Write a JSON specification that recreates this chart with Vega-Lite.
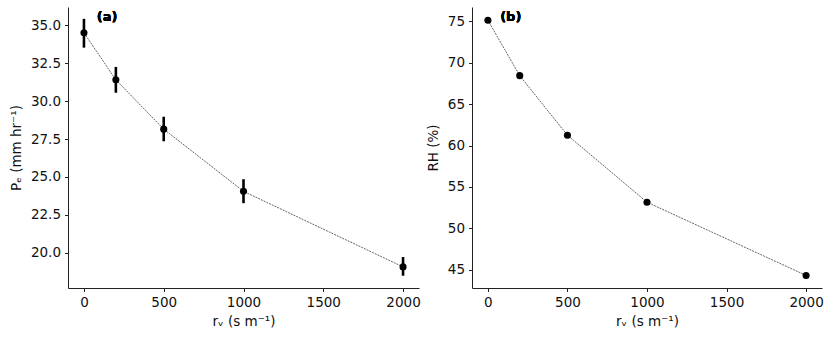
{
  "$schema": "https://vega.github.io/schema/vega-lite/v6.json",
  "padding": {"left": 9, "top": 7, "right": 10, "bottom": 5},
  "spacing": 53,
  "bounds": "flush",
  "config": {
    "font": "DejaVu Sans",
    "view": {"stroke": null},
    "axis": {
      "grid": false,
      "domainColor": "#222222",
      "domainWidth": 1,
      "tickColor": "#222222",
      "tickSize": 3.5,
      "tickWidth": 1,
      "labelFontSize": 13.5,
      "labelColor": "#111111",
      "labelPadding": 4,
      "titleFontSize": 13.5,
      "titleFontWeight": "normal",
      "titleColor": "#111111"
    }
  },
  "hconcat": [
    {
      "width": 351,
      "height": 281,
      "data": {"values": [
        {"rv": 0, "Pe": 34.5, "lo": 33.52, "hi": 35.42},
        {"rv": 200, "Pe": 31.4, "lo": 30.55, "hi": 32.25},
        {"rv": 500, "Pe": 28.15, "lo": 27.35, "hi": 28.97},
        {"rv": 1000, "Pe": 24.05, "lo": 23.27, "hi": 24.85},
        {"rv": 2000, "Pe": 19.07, "lo": 18.49, "hi": 19.72}
      ]},
      "layer": [
        {
          "mark": {"type": "line", "color": "#222222", "strokeWidth": 0.7, "strokeDash": [2, 1]},
          "encoding": {
            "x": {"field": "rv", "type": "quantitative", "scale": {"domain": [-100, 2100], "nice": false, "zero": false},
                  "axis": {"values": [0, 500, 1000, 1500, 2000], "format": "d", "title": "rᵥ (s m⁻¹)", "titlePadding": 5}},
            "y": {"field": "Pe", "type": "quantitative", "scale": {"domain": [17.68, 36.2], "nice": false, "zero": false},
                  "axis": {"values": [20, 22.5, 25, 27.5, 30, 32.5, 35], "format": ".1f", "title": "Pₑ (mm hr⁻¹)", "titlePadding": 7}}
          }
        },
        {
          "mark": {"type": "rule", "color": "black", "strokeWidth": 2.6},
          "encoding": {
            "x": {"field": "rv", "type": "quantitative"},
            "y": {"field": "lo", "type": "quantitative"},
            "y2": {"field": "hi"}
          }
        },
        {
          "mark": {"type": "circle", "color": "black", "opacity": 1, "size": 50},
          "encoding": {
            "x": {"field": "rv", "type": "quantitative"},
            "y": {"field": "Pe", "type": "quantitative"}
          }
        },
        {
          "mark": {"type": "text", "text": "(a)", "fontWeight": "bold", "fontSize": 13, "align": "left", "baseline": "middle", "color": "black"},
          "encoding": {
            "x": {"datum": 80},
            "y": {"datum": 35.55}
          }
        }
      ]
    },
    {
      "width": 350,
      "height": 281,
      "data": {"values": [
        {"rv": 0, "RH": 75.15},
        {"rv": 200, "RH": 68.45},
        {"rv": 500, "RH": 61.25},
        {"rv": 1000, "RH": 53.15},
        {"rv": 2000, "RH": 44.3}
      ]},
      "layer": [
        {
          "mark": {"type": "line", "color": "#222222", "strokeWidth": 0.7, "strokeDash": [2, 1]},
          "encoding": {
            "x": {"field": "rv", "type": "quantitative", "scale": {"domain": [-100, 2100], "nice": false, "zero": false},
                  "axis": {"values": [0, 500, 1000, 1500, 2000], "format": "d", "title": "rᵥ (s m⁻¹)", "titlePadding": 5}},
            "y": {"field": "RH", "type": "quantitative", "scale": {"domain": [42.78, 76.75], "nice": false, "zero": false},
                  "axis": {"values": [45, 50, 55, 60, 65, 70, 75], "title": "RH (%)", "titlePadding": 7}}
          }
        },
        {
          "mark": {"type": "circle", "color": "black", "opacity": 1, "size": 50},
          "encoding": {
            "x": {"field": "rv", "type": "quantitative"},
            "y": {"field": "RH", "type": "quantitative"}
          }
        },
        {
          "mark": {"type": "text", "text": "(b)", "fontWeight": "bold", "fontSize": 13, "align": "left", "baseline": "middle", "color": "black"},
          "encoding": {
            "x": {"datum": 77},
            "y": {"datum": 75.5}
          }
        }
      ]
    }
  ]
}
